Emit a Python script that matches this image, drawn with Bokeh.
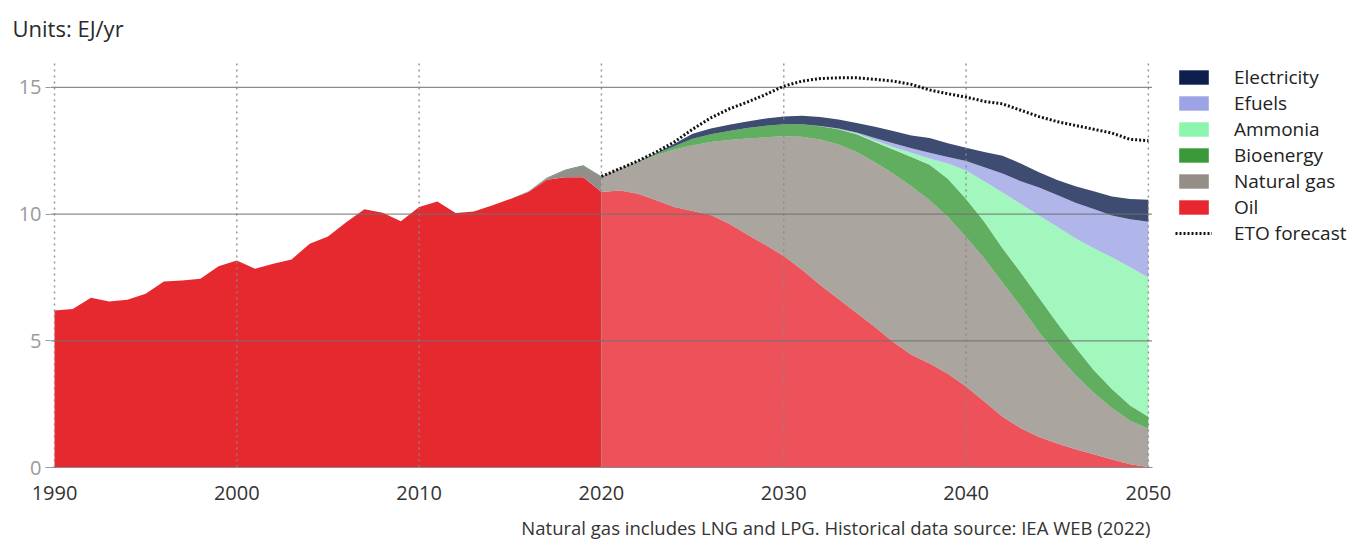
from bokeh.plotting import figure
from bokeh.models import ColumnDataSource, Legend, LegendItem, Title, Range1d, FixedTicker
from bokeh.embed import file_html
from bokeh.resources import INLINE

# ---------------- data (EJ/yr) ----------------
years_hist = [1990, 1991, 1992, 1993, 1994, 1995, 1996, 1997, 1998, 1999,
              2000, 2001, 2002, 2003, 2004, 2005, 2006, 2007, 2008, 2009,
              2010, 2011, 2012, 2013, 2014, 2015, 2016, 2017, 2018, 2019, 2020]
oil_hist = [6.20, 6.26, 6.70, 6.55, 6.62, 6.86, 7.34, 7.38, 7.45, 7.94,
            8.17, 7.84, 8.04, 8.21, 8.83, 9.12, 9.68, 10.19, 10.05, 9.72,
            10.28, 10.50, 10.04, 10.10, 10.34, 10.60, 10.87, 11.36, 11.46, 11.46, 10.87]
gas_hist = [0.0, 0.0, 0.0, 0.0, 0.0, 0.0, 0.0, 0.0, 0.0, 0.0,
            0.0, 0.0, 0.0, 0.0, 0.0, 0.0, 0.0, 0.0, 0.0, 0.0,
            0.0, 0.0, 0.0, 0.0, 0.0, 0.0, 0.03, 0.06, 0.26, 0.44, 0.62]
bio_hist = [0.0, 0.0, 0.0, 0.0, 0.0, 0.0, 0.0, 0.0, 0.0, 0.0,
            0.0, 0.0, 0.0, 0.0, 0.0, 0.0, 0.0, 0.0, 0.0, 0.0,
            0.0, 0.0, 0.0, 0.0, 0.0, 0.0, 0.0, 0.02, 0.03, 0.03, 0.0]

years_fc = [2020, 2021, 2022, 2023, 2024, 2025, 2026, 2027, 2028, 2029,
            2030, 2031, 2032, 2033, 2034, 2035, 2036, 2037, 2038, 2039,
            2040, 2041, 2042, 2043, 2044, 2045, 2046, 2047, 2048, 2049, 2050]
oil_fc = [10.87, 10.93, 10.80, 10.55, 10.28, 10.12, 9.97, 9.62, 9.20, 8.78,
          8.35, 7.80, 7.20, 6.65, 6.10, 5.55, 4.95, 4.45, 4.10, 3.70,
          3.20, 2.60, 2.00, 1.55, 1.20, 0.95, 0.72, 0.52, 0.32, 0.13, 0.02]
gas_fc = [0.62, 0.85, 1.25, 1.77, 2.27, 2.60, 2.88, 3.31, 3.78, 4.25,
          4.72, 5.25, 5.75, 6.10, 6.35, 6.50, 6.65, 6.65, 6.45, 6.20,
          5.90, 5.65, 5.30, 4.80, 4.15, 3.50, 2.93, 2.43, 2.03, 1.72, 1.51]
bio_fc = [0.00, 0.01, 0.03, 0.06, 0.13, 0.25, 0.30, 0.35, 0.42, 0.46,
          0.48, 0.50, 0.52, 0.60, 0.70, 0.80, 0.95, 1.15, 1.40, 1.50,
          1.50, 1.45, 1.35, 1.35, 1.35, 1.25, 1.10, 0.90, 0.75, 0.60, 0.47]
amm_fc = [0.0, 0.0, 0.0, 0.0, 0.0, 0.0, 0.0, 0.0, 0.0, 0.0,
          0.0, 0.0, 0.0, 0.01, 0.03, 0.07, 0.10, 0.17, 0.25, 0.60,
          1.12, 1.60, 2.20, 2.70, 3.25, 3.80, 4.30, 4.80, 5.20, 5.45, 5.50]
efu_fc = [0.0, 0.0, 0.0, 0.0, 0.0, 0.0, 0.0, 0.0, 0.0, 0.0,
          0.0, 0.0, 0.01, 0.02, 0.04, 0.08, 0.15, 0.18, 0.22, 0.25,
          0.38, 0.55, 0.75, 0.90, 1.10, 1.25, 1.40, 1.55, 1.65, 1.90, 2.20]
ele_fc = [0.0, 0.0, 0.01, 0.03, 0.10, 0.20, 0.23, 0.25, 0.26, 0.28,
          0.30, 0.33, 0.35, 0.35, 0.38, 0.45, 0.48, 0.50, 0.58, 0.55,
          0.52, 0.60, 0.70, 0.70, 0.60, 0.60, 0.65, 0.70, 0.75, 0.80, 0.87]
eto_fc = [11.49, 11.79, 12.10, 12.45, 12.85, 13.35, 13.80, 14.15, 14.42, 14.72,
          15.05, 15.25, 15.35, 15.38, 15.38, 15.32, 15.25, 15.12, 14.90, 14.75,
          14.62, 14.45, 14.35, 14.10, 13.85, 13.65, 13.50, 13.35, 13.20, 12.95, 12.90]

series_names = ["Electricity", "Efuels", "Ammonia", "Bioenergy", "Natural gas", "Oil"]
series_cols = ["ele", "efu", "amm", "bio", "gas", "oil"]
series_colors = ["#0F1F4D", "#9CA4E5", "#8BF5AE", "#3A9A3A", "#958E86", "#E8262F"]
x_ticks = [1990, 2000, 2010, 2020, 2030, 2040, 2050]
y_ticks = [0, 5, 10, 15]
y_grid = [5, 10, 15]

FONT = "Open Sans"
X_START, X_END = 1989.78, 2050.94      # frame extends a little right of 2050 (room before legend)
X_LINE_END = 2050.2                    # where grid lines / axis line stop
Y_TOP = 16.30
Y_GRID_TOP = 16.0

# ---------------- figure ----------------
p = figure(frame_width=1115, frame_height=413, output_backend="svg", toolbar_location=None,
           x_range=Range1d(X_START, X_END), y_range=Range1d(0, Y_TOP),
           min_border_left=50, min_border_top=54, min_border_bottom=73,
           min_border_right=0, title=None)
p.outline_line_color = None
p.background_fill_color = "white"
p.border_fill_color = "white"
p.xgrid.visible = False
p.ygrid.visible = False

src_h = ColumnDataSource(dict(year=years_hist, oil=oil_hist, gas=gas_hist, bio=bio_hist))
src_f = ColumnDataSource(dict(year=years_fc, oil=oil_fc, gas=gas_fc, bio=bio_fc,
                              amm=amm_fc, efu=efu_fc, ele=ele_fc, eto=eto_fc))

p.varea_stack(stackers=["oil", "gas", "bio"], x="year", source=src_h,
              fill_color=["#E6282F", "#928F8A", "#4E7D55"], fill_alpha=1.0)
p.varea_stack(stackers=["oil", "gas", "bio", "amm", "efu", "ele"], x="year", source=src_f,
              fill_color=["#E8262F", "#958E86", "#3A9A3A", "#8BF5AE", "#9CA4E5", "#0F1F4D"],
              fill_alpha=0.8)

# grid lines drawn on top of the areas
vg = ColumnDataSource(dict(x=x_ticks, y0=[0] * len(x_ticks), y1=[Y_GRID_TOP] * len(x_ticks)))
p.segment(x0="x", y0="y0", x1="x", y1="y1", source=vg, line_color="#8a8a8a",
          line_width=1.5, line_dash="2 4", line_alpha=0.9)
hg = ColumnDataSource(dict(y=y_grid, x0=[X_START] * len(y_grid), x1=[X_LINE_END] * len(y_grid)))
p.segment(x0="x0", y0="y", x1="x1", y1="y", source=hg, line_color="#707070",
          line_width=1.2, line_alpha=0.8)

eto_r = p.line(x="year", y="eto", source=src_f, line_color="#111111", line_width=3,
               line_dash="2 2")

# legend swatches: zero-height areas carrying the full legend colours
items = []
for name, col, c in zip(series_names, series_cols, series_colors):
    r = p.varea(x="year", y1=col, y2=col, source=src_f, fill_color=c, fill_alpha=1.0)
    items.append(LegendItem(label=name, renderers=[r]))
items.append(LegendItem(label="ETO forecast", renderers=[eto_r]))

legend = Legend(items=items, location="top_left", orientation="vertical",
                glyph_width=37, glyph_height=18, label_height=20, spacing=0,
                label_standoff=22, padding=0, margin=10,
                border_line_color=None, background_fill_alpha=0,
                label_text_font=FONT, label_text_font_size="19px",
                label_text_color="#222222")
p.add_layout(legend, "right")

# ---------------- axes ----------------
p.xaxis.ticker = FixedTicker(ticks=x_ticks)
p.yaxis.ticker = FixedTicker(ticks=y_ticks)
p.xaxis.bounds = (X_START, X_LINE_END)
p.xaxis.minor_tick_line_color = None
p.yaxis.minor_tick_line_color = None
p.xaxis.major_tick_line_color = None
p.xaxis.axis_line_color = "#8a8a8a"
p.xaxis.major_label_standoff = 12
p.xaxis.major_label_text_font = FONT
p.xaxis.major_label_text_font_size = "20px"
p.xaxis.major_label_text_color = "#333333"
p.yaxis.axis_line_color = None
p.yaxis.major_tick_line_color = "#999999"
p.yaxis.major_tick_out = 5
p.yaxis.major_tick_in = 0
p.yaxis.major_label_standoff = 4
p.yaxis.major_label_text_font = FONT
p.yaxis.major_label_text_font_size = "20px"
p.yaxis.major_label_text_color = "#9a9a9a"

# ---------------- texts ----------------
p.add_layout(Title(text="Units: EJ/yr", align="left", offset=-38, standoff=19,
                   vertical_align="top", padding=0,
                   text_font=FONT, text_font_size="22px", text_color="#2a2a2a",
                   text_font_style="normal"), "above")
p.add_layout(Title(text="Natural gas includes LNG and LPG. Historical data source: IEA WEB (2022)",
                   align="right", offset=15, standoff=20,
                   text_font=FONT, text_font_size="18.5px", text_color="#333333",
                   text_font_style="normal"), "below")

open("out.html", "w").write(file_html(p, INLINE))
